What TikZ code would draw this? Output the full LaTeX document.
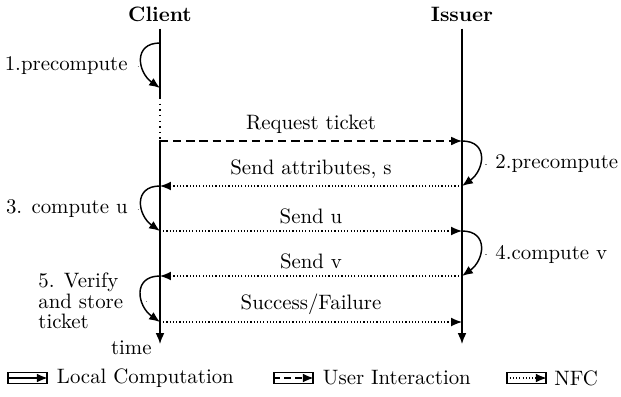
\documentclass[tikz,border=0pt]{standalone}
\usetikzlibrary{arrows.meta}
\begin{document}
\begin{tikzpicture}[x=0.48pt,y=0.48pt,
  tip/.style={-{Latex[length=5.2pt,width=4.2pt]}},
  life/.style={line width=0.7pt},
  comp/.style={line width=0.7pt, tip},
  user/.style={line width=0.6pt, dash pattern=on 4pt off 2.3pt, tip},
  nfc/.style={line width=0.55pt, dash pattern=on 0.55pt off 1pt, tip},
  msg/.style={midway, above},
  steplabel/.style={inner sep=0pt},
  pinline/.style={gray, line width=0.3pt},
  legbox/.style={draw, line width=0.6pt, minimum width=18.7pt, minimum height=5.3pt, inner sep=0pt}
]
\useasboundingbox (0,0) rectangle (621,-396);

% participants and lifelines
\node (client) at (160,-14) {\bfseries Client};
\node (issuer) at (462,-14) {\bfseries Issuer};
\coordinate (cgap1) at (160,-98);
\coordinate (cgap2) at (160,-140);
\coordinate (cend) at (160,-344);
\coordinate (iend) at (462,-344);
\draw[life] (client.south) -- (cgap1);
\draw[life, dotted] (cgap1) -- (cgap2);
\draw[life, tip] (cgap2) -- (cend);
\draw[life, tip] (issuer.south) -- (iend);

% event points on the lifelines
\coordinate (c0) at (160,-43);
\coordinate (c0b) at (160,-88);
\foreach \k/\y in {1/141,2/186,3/231,4/276,5/322}{
  \coordinate (c\k) at (160,-\y);
  \coordinate (i\k) at (462,-\y);
}

% messages
\draw[user] (c1) -- node[msg]{Request ticket} (i1);
\draw[nfc] (i2) -- node[msg]{Send attributes, s} (c2);
\draw[nfc] (c3) -- node[msg]{Send u} (i3);
\draw[nfc] (i4) -- node[msg]{Send v} (c4);
\draw[nfc] (c5) -- node[msg]{Success/Failure} (i5);

% local computations
\draw[comp] (c0) to[out=180,in=145,looseness=1.55] (c0b);
\draw[comp] (i1) to[out=0,in=35,looseness=1.55] (i2);
\draw[comp] (c2) to[out=180,in=145,looseness=1.55] (c3);
\draw[comp] (i3) to[out=0,in=35,looseness=1.55] (i4);
\draw[comp] (c4) to[out=180,in=145,looseness=1.55] (c5);

% step labels
\node[steplabel, anchor=east] (s1) at (128,-66) {1.precompute};
\draw[pinline] ([xshift=4.6pt]s1.east) -- ([xshift=5.4pt]s1.east);
\node[steplabel, anchor=west] (s2) at (495,-164) {2.precompute};
\draw[pinline] ([xshift=-4.6pt]s2.west) -- ([xshift=-3.8pt]s2.west);
\node[steplabel, anchor=east] (s3) at (128,-209) {3. compute u};
\draw[pinline] ([xshift=4.6pt]s3.east) -- ([xshift=5.4pt]s3.east);
\node[steplabel, anchor=west] (s4) at (495,-254) {4.compute v};
\draw[pinline] ([xshift=-4.6pt]s4.west) -- ([xshift=-3.8pt]s4.west);
\node[steplabel, anchor=west, align=left] (s5) at (38,-301)
  {5. Verify\\[-2.2pt]and store\\[-2.2pt]ticket};
\draw[pinline] ([xshift=10.6pt]s5.east) -- ([xshift=11.4pt]s5.east);

\node[anchor=east, inner sep=0pt] (time) at (152,-348) {time};

% legend
\node[legbox] (b1) at (27.5,-378) {};
\draw[line width=0.6pt, tip] (b1.west) -- (b1.east);
\node[anchor=west, inner sep=0pt] (t1) at ([xshift=4.3pt]b1.east) {Local Computation};
\node[legbox] (b2) at (293.5,-378) {};
\draw[line width=0.6pt, dash pattern=on 3pt off 2.3pt, tip] (b2.west) -- (b2.east);
\node[anchor=west, inner sep=0pt] (t2) at ([xshift=4.3pt]b2.east) {User Interaction};
\node[legbox] (b3) at (526.5,-378) {};
\draw[nfc] (b3.west) -- (b3.east);
\node[anchor=west, inner sep=0pt] (t3) at ([xshift=3.5pt]b3.east) {NFC};
\end{tikzpicture}
\end{document}
